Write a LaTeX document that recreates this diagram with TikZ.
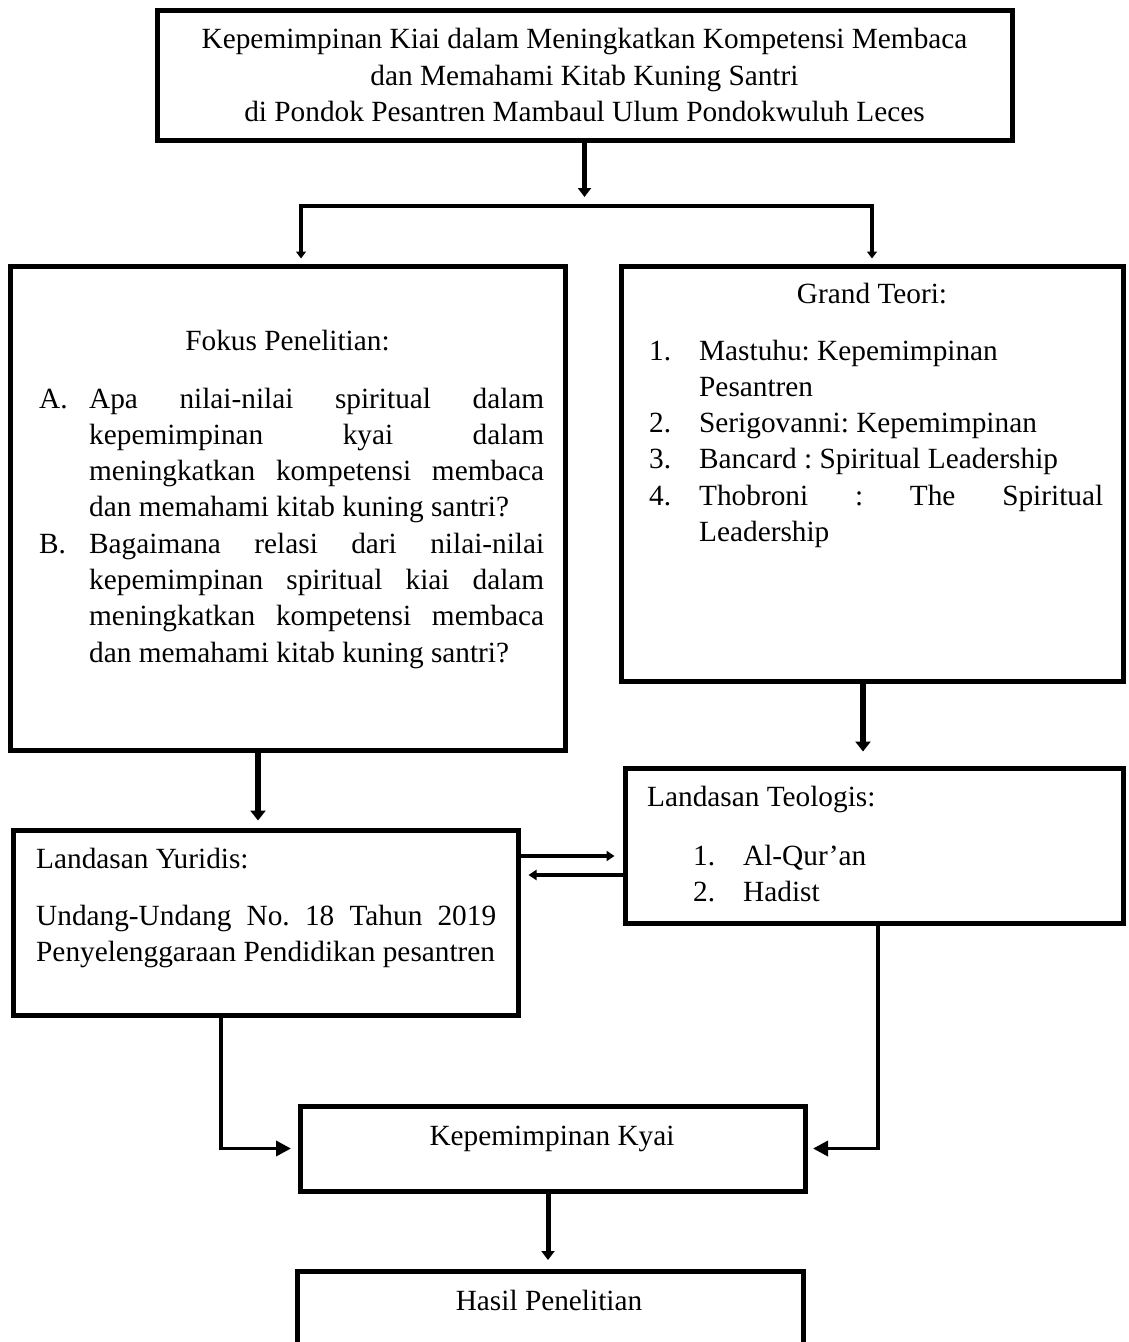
\documentclass[tikz,border=0pt]{standalone}
\usepackage{fontspec}
\setmainfont{Liberation Serif}
\usetikzlibrary{arrows.meta}

\newcommand\ukuranteks{\fontsize{29.3}{36.3}\selectfont}
\newcommand\butir[1]{\llap{\makebox[50pt][l]{#1}}}
\newcommand\isidaftar[2]{\parbox[t]{#1}{\leftskip=50pt\noindent #2}}
\tolerance=10000 \hbadness=10000
\hyphenpenalty=10000 \exhyphenpenalty=10000
\frenchspacing

\begin{document}
\begin{tikzpicture}[
  x=1pt,
  y=-1pt,
  font=\ukuranteks,
  kotak/.style={draw, line width=5pt, inner sep=0pt},
  teks/.style={inner sep=0pt},
  panahAtas/.style={line width=5pt, -{Triangle[length=9pt,width=13pt]}},
  panahCabang/.style={line width=4pt, {Triangle[length=7pt,width=10pt]}-{Triangle[length=7pt,width=10pt]}, shorten <=5pt, shorten >=5pt},
  panahTebal/.style={line width=6pt, -{Triangle[length=10pt,width=15pt]}},
  panahTipis/.style={line width=3.5pt, -{Triangle[length=8pt,width=10pt]}, shorten >=8pt},
  panahKyai/.style={line width=3.5pt, -{Triangle[length=15pt,width=15pt]}}
]
\useasboundingbox (0,0) rectangle (1128,1342);

% Judul
\node[kotak, minimum width=855pt, minimum height=130pt, align=center] (judul) at (584.5,75)
  {Kepemimpinan Kiai dalam Meningkatkan Kompetensi Membaca\\dan Memahami Kitab Kuning Santri\\di Pondok Pesantren Mambaul Ulum Pondokwuluh Leces};

% Kotak-kotak
\node[kotak, minimum width=555pt, minimum height=484pt] (fokus) at (287.5,508) {};
\node[kotak, minimum width=502pt, minimum height=415pt] (grand) at (872,473.5) {};
\node[kotak, minimum width=498pt, minimum height=155pt] (teologis) at (874,845.5) {};
\node[kotak, minimum width=505pt, minimum height=185pt] (yuridis) at (265.5,922.5) {};
\node[kotak, minimum width=505pt, minimum height=85pt] (kyai) at (552.5,1148.5) {};
\node[kotak, minimum width=506pt, minimum height=200pt] (hasil) at (550,1371) {};

% Isi kotak
\node[teks, anchor=base] (fokusJudul) at (287.5,350) {Fokus Penelitian:};
\node[teks, anchor=base west] (fokusIsi) at (39,408)
  {\isidaftar{505pt}{%
   \butir{A.}Apa nilai-nilai spiritual dalam\linebreak kepemimpinan kyai dalam\linebreak meningkatkan kompetensi membaca\linebreak dan memahami kitab kuning santri?\newline
   \butir{B.}Bagaimana relasi dari nilai-nilai\linebreak kepemimpinan spiritual kiai dalam\linebreak meningkatkan kompetensi membaca\linebreak dan memahami kitab kuning santri?}};

\node[teks, anchor=base] (grandJudul) at (872,303) {Grand Teori:};
\node[teks, anchor=base west] (grandIsi) at (649,360)
  {\isidaftar{454pt}{%
   \butir{1.}Mastuhu: Kepemimpinan\newline Pesantren\newline
   \butir{2.}Serigovanni: Kepemimpinan\newline
   \butir{3.}Bancard : Spiritual Leadership\newline
   \butir{4.}Thobroni : The Spiritual\linebreak Leadership}};

\node[teks, anchor=base west] (teologisJudul) at (647,806) {Landasan Teologis:};
\node[teks, anchor=base west] (teologisIsi) at (693,865)
  {\isidaftar{300pt}{%
   \butir{1.}Al-Qur’an\newline
   \butir{2.}Hadist}};

\node[teks, anchor=base west] (yuridisJudul) at (36,868) {Landasan Yuridis:};
\node[teks, anchor=base west] (yuridisIsi) at (36,925)
  {\parbox[t]{460pt}{Undang-Undang No. 18 Tahun 2019\linebreak Penyelenggaraan Pendidikan pesantren}};

\node[teks, anchor=base] (kyaiTeks) at (552,1145) {Kepemimpinan Kyai};
\node[teks, anchor=base] (hasilTeks) at (549,1310) {Hasil Penelitian};

% Cabang atas
\coordinate (cabangAtas) at (584.5,197);
\coordinate (cabKiri) at (301,206);
\coordinate (cabKanan) at (872,206);
\draw[panahAtas] (judul.south) -- (cabangAtas);
\draw[panahCabang] (cabKiri |- fokus.north) -- (cabKiri) -- (cabKanan) -- (cabKanan |- grand.north);

% Panah ke landasan
\draw[panahTebal, shorten >=7pt] ([xshift=-29.5pt]fokus.south) -- ([xshift=-7.5pt]yuridis.north);
\draw[panahTebal, shorten >=14pt] ([xshift=-9pt]grand.south) -- ([xshift=-11pt]teologis.north);

% Panah bolak-balik
\draw[panahTipis] ([yshift=66.5pt]yuridis.east) -- ([yshift=-10.5pt]teologis.west);
\draw[panahTipis] ([yshift=-29.5pt]teologis.west) -- ([yshift=47.5pt]yuridis.east);

% Ke kepemimpinan kyai
\draw[panahKyai, shorten >=6.5pt] ([xshift=-44.5pt]yuridis.south) |- (kyai.west);
\draw[panahKyai, shorten >=5.5pt] ([xshift=4pt]teologis.south) |- (kyai.east);
\draw[panahAtas, shorten >=8.5pt] ([xshift=-4.5pt]kyai.south) -- ([xshift=-2pt]hasil.north);

\end{tikzpicture}
\end{document}
